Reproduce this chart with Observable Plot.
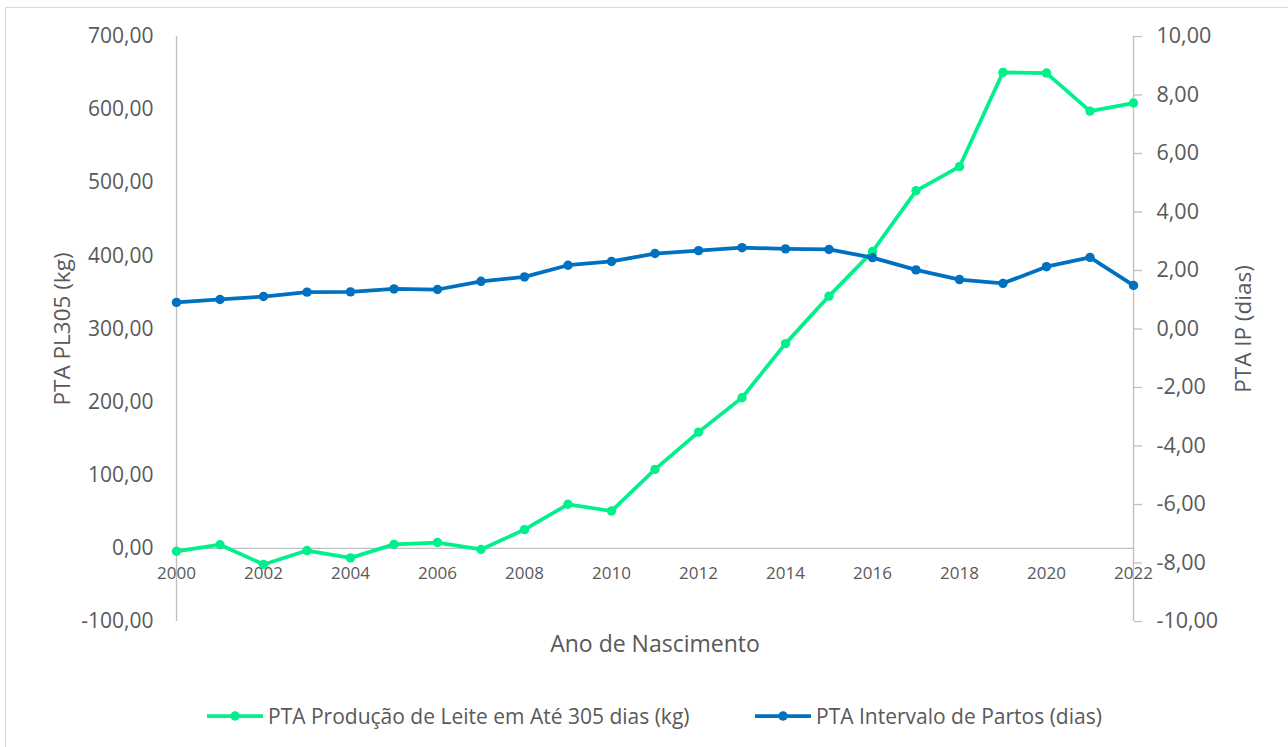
<!DOCTYPE html>
<html>
<head>
<meta charset="utf-8">
<script src="https://cdn.jsdelivr.net/npm/d3@7"></script>
<script src="https://cdn.jsdelivr.net/npm/@observablehq/plot@0.6"></script>
<style>
  html, body { margin: 0; padding: 0; background: #fff; overflow: hidden; }
  body { font-family: "Open Sans", sans-serif; color: #595959; }
  #wrap { position: relative; width: 1288px; height: 747px; overflow: hidden; }
  #frame { position: absolute; left: 5px; top: 7px; width: 1320px; height: 800px; border: 1px solid #d9d9d9; box-sizing: border-box; }
  #chart { position: absolute; left: 0; top: 0; }
  #legend { position: absolute; left: 0; top: 690px; width: 1288px; height: 57px; }
  .item { position: absolute; top: 12px; display: flex; align-items: center; font-size: 21px; white-space: nowrap; }
  .item svg { margin-right: 5px; }
</style>
</head>
<body>
<div id="wrap">
  <div id="frame"></div>
  <div id="chart"></div>
  <div id="legend"></div>
</div>
<script>
// ---- data ----
const years = [2000, 2001, 2002, 2003, 2004, 2005, 2006, 2007, 2008, 2009, 2010, 2011,
               2012, 2013, 2014, 2015, 2016, 2017, 2018, 2019, 2020, 2021, 2022];
const ptaLeite = [-4, 5, -22, -3, -13, 5.5, 8, -1.5, 25.6, 60.3, 51.1, 108,
                  159, 206, 280, 345, 406, 489, 522, 651, 650, 598, 609];
const ptaIP = [0.91, 1.01, 1.11, 1.26, 1.27, 1.37, 1.35, 1.63, 1.78, 2.18, 2.31, 2.58,
               2.68, 2.78, 2.74, 2.72, 2.44, 2.02, 1.69, 1.56, 2.13, 2.45, 1.49];
const leftTicks = [-100, 0, 100, 200, 300, 400, 500, 600, 700];
const rightTicks = [-10, -8, -6, -4, -2, 0, 2, 4, 6, 8, 10];
const xTicks = [2000, 2002, 2004, 2006, 2008, 2010, 2012, 2014, 2016, 2018, 2020, 2022];
const seriesNames = ["PTA Produção de Leite em Até 305 dias (kg)", "PTA Intervalo de Partos (dias)"];
const seriesColors = ["#00F08C", "#0070C0"];
const leftTitle = "PTA PL305 (kg)";
const rightTitle = "PTA IP (dias)";
const xTitle = "Ano de Nascimento";

// ---- helpers ----
const fmt = v => (Math.round(v * 100) / 100).toFixed(2).replace(".", ",");
// map right-axis value (-10..10) onto left scale (-100..700)
const toLeft = v => -100 + (v + 10) / 20 * 800;
const fromLeft = d => (d + 100) / 800 * 20 - 10;

const leite = years.map((y, i) => ({year: y, v: ptaLeite[i]}));
const ip = years.map((y, i) => ({year: y, v: toLeft(ptaIP[i])}));

const axisGray = "#BFBFBF";
const textGray = "#595959";

const chart = Plot.plot({
  width: 1288,
  height: 690,
  marginLeft: 176,
  marginRight: 155,
  marginTop: 36,
  marginBottom: 69,
  style: {fontFamily: "'Open Sans', sans-serif", fontSize: "21px", color: textGray, background: "transparent", overflow: "visible"},
  x: {type: "linear", domain: [2000, 2022], axis: null},
  y: {domain: [-100, 700], axis: null},
  marks: [
    // axis lines
    Plot.ruleX([2000], {y1: -100, y2: 700, stroke: axisGray, strokeWidth: 1.3}),
    Plot.ruleX([2022], {y1: -100, y2: 700, stroke: axisGray, strokeWidth: 1.3}),
    Plot.ruleY([0], {x1: 2000, x2: 2022, stroke: axisGray, strokeWidth: 1.3}),
    // left axis
    Plot.axisY(leftTicks, {anchor: "left", tickSize: 0, tickPadding: 23, tickFormat: fmt,
      fill: textGray, fontSize: 21, label: null}),
    // right axis
    Plot.axisY(rightTicks.map(toLeft), {anchor: "right", tickSize: 8, tickPadding: 15,
      tickFormat: d => fmt(fromLeft(d)), stroke: axisGray, strokeWidth: 1.3, fill: textGray, fontSize: 21.5, label: null}),
    // x tick labels next to the zero line
    Plot.text(xTicks, {x: d => d, y: 0, dy: 25, text: d => String(d), fill: textGray, fontSize: 17}),
    // axis titles
    Plot.text([leftTitle], {frameAnchor: "left", dx: -114, rotate: -90, textAnchor: "middle", lineAnchor: "middle", fill: textGray, fontSize: 22.5}),
    Plot.text([rightTitle], {frameAnchor: "right", dx: 110, rotate: -90, textAnchor: "middle", lineAnchor: "middle", fill: textGray, fontSize: 22.5}),
    Plot.text([xTitle], {frameAnchor: "bottom", dy: 23, textAnchor: "middle", lineAnchor: "middle", fill: textGray, fontSize: 23}),
    // series
    Plot.line(leite, {x: "year", y: "v", stroke: seriesColors[0], strokeWidth: 3.75}),
    Plot.dot(leite, {x: "year", y: "v", r: 4.7, fill: seriesColors[0]}),
    Plot.line(ip, {x: "year", y: "v", stroke: seriesColors[1], strokeWidth: 3.75}),
    Plot.dot(ip, {x: "year", y: "v", r: 4.7, fill: seriesColors[1]})
  ]
});
document.getElementById("chart").appendChild(chart);

// ---- legend ----
const legend = document.getElementById("legend");
const lefts = [207, 755];
seriesNames.forEach((name, i) => {
  const item = document.createElement("div");
  item.className = "item";
  item.style.left = lefts[i] + "px";
  const ns = "http://www.w3.org/2000/svg";
  const sw = document.createElementNS(ns, "svg");
  sw.setAttribute("width", 56); sw.setAttribute("height", 14);
  const ln = document.createElementNS(ns, "line");
  ln.setAttribute("x1", 0); ln.setAttribute("x2", 56); ln.setAttribute("y1", 7); ln.setAttribute("y2", 7);
  ln.setAttribute("stroke", seriesColors[i]); ln.setAttribute("stroke-width", 3.75);
  const c = document.createElementNS(ns, "circle");
  c.setAttribute("cx", 28); c.setAttribute("cy", 7); c.setAttribute("r", 4.7); c.setAttribute("fill", seriesColors[i]);
  sw.appendChild(ln); sw.appendChild(c);
  const t = document.createElement("span");
  t.textContent = name;
  item.appendChild(sw); item.appendChild(t);
  legend.appendChild(item);
});
</script>
</body>
</html>
